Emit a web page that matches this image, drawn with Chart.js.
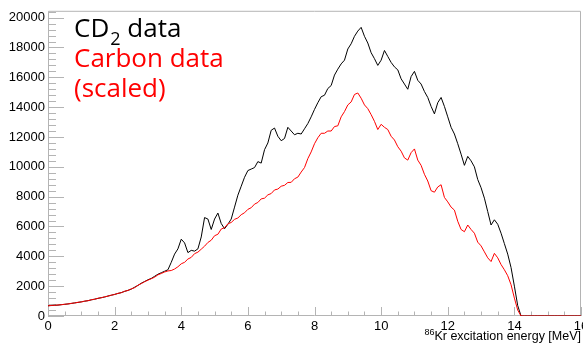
<!DOCTYPE html>
<html><head><meta charset="utf-8">
<script src="https://cdn.jsdelivr.net/npm/chart.js@4.4.1/dist/chart.umd.min.js"></script>
<style>html,body{margin:0;padding:0;background:#fff;overflow:hidden}#wrap{position:relative;width:583px;height:343px}</style>
</head><body><div id="wrap"><canvas id="c" width="583" height="343"></canvas></div>
<script>
// Excitation energy bins (MeV)
const energy = [
0.0,0.1,0.2,0.3,0.4,0.5,0.6,0.7,0.8,0.9,
1.0,1.1,1.2,1.3,1.4,1.5,1.6,1.7,1.8,1.9,
2.0,2.1,2.2,2.3,2.4,2.5,2.6,2.7,2.8,2.9,
3.0,3.1,3.2,3.3,3.4,3.5,3.6,3.7,3.8,3.9,
4.0,4.1,4.2,4.3,4.4,4.5,4.6,4.7,4.8,4.9,
5.0,5.1,5.2,5.3,5.4,5.5,5.6,5.7,5.8,5.9,
6.0,6.1,6.2,6.3,6.4,6.5,6.6,6.7,6.8,6.9,
7.0,7.1,7.2,7.3,7.4,7.5,7.6,7.7,7.8,7.9,
8.0,8.1,8.2,8.3,8.4,8.5,8.6,8.7,8.8,8.9,
9.0,9.1,9.2,9.3,9.4,9.5,9.6,9.7,9.8,9.9,
10.0,10.1,10.2,10.3,10.4,10.5,10.6,10.7,10.8,10.9,
11.0,11.1,11.2,11.3,11.4,11.5,11.6,11.7,11.8,11.9,
12.0,12.1,12.2,12.3,12.4,12.5,12.6,12.7,12.8,12.9,
13.0,13.1,13.2,13.3,13.4,13.5,13.6,13.7,13.8,13.9,
14.0,14.1,14.2,14.3,14.4,14.5,14.6,14.7,14.8,14.9,
15.0,15.1,15.2,15.3,15.4,15.5,15.6,15.7,15.8,15.9,16.0];

// CD2 data (black)
const cd2Data = [
690,700,720,730,760,780,810,840,880,910,
950,990,1030,1080,1130,1180,1230,1270,1340,1390,
1450,1510,1570,1650,1720,1800,1930,2050,2200,2310,
2430,2520,2660,2800,2900,3000,3100,3600,4150,4500,
5150,4900,4250,4400,4350,4500,5300,6600,6500,5800,
6500,6900,6200,5850,6150,6500,7300,8100,8700,9300,
9750,9850,9950,10350,10250,11150,11600,12450,12600,12050,
11750,11900,12650,12400,12150,12250,12200,12550,12900,13350,
13850,14300,14700,14800,15250,15450,16150,16550,16900,17150,
17900,18250,18750,19100,19350,18750,18300,17650,17250,16800,
17150,17800,17400,17000,16700,16500,15900,15550,15200,16050,
16400,15800,15550,15050,14650,14050,13550,14300,14650,14050,
13350,12650,12200,11550,10850,10100,10700,10400,10000,9150,
8600,7900,7000,6100,6450,6150,5550,4850,4150,3250,
2000,700,0,0,0,0,0,0,0,0,
0,0,0,0,0,0,0,0,0,0,0];

// Carbon data, scaled (red)
const carbonScaled = [
680,710,715,740,755,790,805,850,870,920,
940,1000,1020,1090,1120,1190,1220,1290,1330,1400,
1440,1520,1560,1660,1710,1820,1900,2060,2170,2300,
2400,2500,2600,2760,2850,2950,3020,3050,3150,3300,
3500,3600,3820,3930,4180,4280,4480,4680,4930,5080,
5380,5480,5830,5920,6180,6270,6480,6570,6790,6920,
7150,7260,7500,7610,7850,7900,8120,8210,8450,8510,
8700,8760,8950,8960,9200,9310,9650,9950,10550,11000,
11550,11950,12250,12250,12400,12400,12700,12750,13350,13700,
14150,14350,14850,14950,14600,14150,13900,13500,13050,12500,
12850,12650,12500,12050,11800,11350,11050,10600,10450,10950,
11200,10450,10100,9500,9050,8400,8300,8650,8800,7950,
7650,7300,7100,6350,5800,5650,6100,5800,5550,4950,
4700,4300,3900,3650,4200,3900,3450,3100,2700,2100,
1200,400,0,0,0,0,0,0,0,0,
0,0,0,0,0,0,0,0,0,0,0];

const xTickValues = [0,2,4,6,8,10,12,14,16];
const yTickValues = [0,2000,4000,6000,8000,10000,12000,14000,16000,18000,20000];
const legendLines = [
  {text:'CD', sub:'2', rest:' data', color:'#000000'},
  {text:'Carbon data', color:'#ff0000'},
  {text:'(scaled)', color:'#ff0000'}
];
const axisTitle = {sup:'86', main:'Kr excitation energy [MeV]'};

const toPts = (vals) => vals.map((v,i)=>({x:energy[i], y:v}));

const frameColor = '#b4b4b4';
const framePlugin = {
  id:'rootFrame',
  beforeDatasetsDraw(chart){
    const {ctx, chartArea:a, scales:{x,y}} = chart;
    ctx.save();
    ctx.strokeStyle = frameColor; ctx.lineWidth = 1;
    ctx.beginPath();
    ctx.rect(a.left+0.5, a.top+0.5, a.right-a.left-1, a.bottom-a.top-1);
    for (let k=0; k<=32; k++){
      const v = k*0.5;
      const px = Math.round(x.getPixelForValue(v))+0.5;
      const len = (k%4===0)?9:4.5;
      ctx.moveTo(px, a.bottom); ctx.lineTo(px, a.bottom-len);
    }
    for (let k=0; k<=51; k++){
      const v = k*400;
      const py = Math.round(y.getPixelForValue(v))+0.5;
      if (py < a.top) continue;
      const len = (k%5===0)?16:8;
      ctx.moveTo(a.left, py); ctx.lineTo(a.left+len, py);
    }
    ctx.stroke();
    ctx.restore();
  },
  afterDraw(chart){
    const {ctx} = chart;
    ctx.save();
    ctx.textBaseline = 'alphabetic';
    ctx.textAlign = 'left';
    const lx = 74, baselines = [37, 67, 97];
    legendLines.forEach((ln,i)=>{
      ctx.fillStyle = ln.color;
      ctx.font = '26px "Open Sans"';
      ctx.fillText(ln.text, lx, baselines[i]);
      if (ln.sub){
        let w = ctx.measureText(ln.text).width;
        ctx.font = '18px "Open Sans"';
        ctx.fillText(ln.sub, lx+w+1, baselines[i]+8);
        w += ctx.measureText(ln.sub).width + 1;
        ctx.font = '26px "Open Sans"';
        ctx.fillText(ln.rest, lx+w, baselines[i]);
      }
    });
    ctx.fillStyle = '#000';
    ctx.font = '12.5px "Liberation Sans"';
    const wm = ctx.measureText(axisTitle.main).width;
    const xr = 581;
    ctx.fillText(axisTitle.main, xr-wm, 340);
    ctx.font = '9px "Liberation Sans"';
    const ws = ctx.measureText(axisTitle.sup).width;
    ctx.fillText(axisTitle.sup, xr-wm-ws, 335);
    ctx.restore();
  }
};

new Chart(document.getElementById('c'), {
  type:'line',
  data:{
    datasets:[
      {label:'Carbon data (scaled)', data:toPts(carbonScaled), borderColor:'#ff0000', borderWidth:1, pointRadius:0, fill:false, tension:0},
      {label:'CD2 data', data:toPts(cd2Data), borderColor:'#000000', borderWidth:1, pointRadius:0, fill:false, tension:0}
    ]
  },
  options:{
    responsive:false, animation:false, devicePixelRatio:1,
    layout:{padding:{top:8,right:2,left:0,bottom:0}},
    plugins:{legend:{display:false}, tooltip:{enabled:false}},
    scales:{
      x:{type:'linear', min:0, max:16,
        grid:{display:false, drawTicks:false}, border:{display:false},
        ticks:{stepSize:2, padding:3, color:'#000', font:{family:'Liberation Sans', size:13}, maxRotation:0, autoSkip:false,
          callback:(v)=>String(v)},
        afterBuildTicks(s){ s.ticks = xTickValues.map(v=>({value:v})); },
        afterFit(s){ s.height = 27; s.paddingLeft = 0; s.paddingRight = 0; }
      },
      y:{type:'linear', min:0, max:20460,
        grid:{display:false, drawTicks:false}, border:{display:false},
        ticks:{stepSize:2000, padding:3, color:'#000', font:{family:'Liberation Sans', size:13},
          callback:(v)=>String(v)},
        afterBuildTicks(s){ s.ticks = yTickValues.map(v=>({value:v})); },
        afterFit(s){ s.width = 48; }
      }
    }
  },
  plugins:[framePlugin]
});
</script></body></html>
